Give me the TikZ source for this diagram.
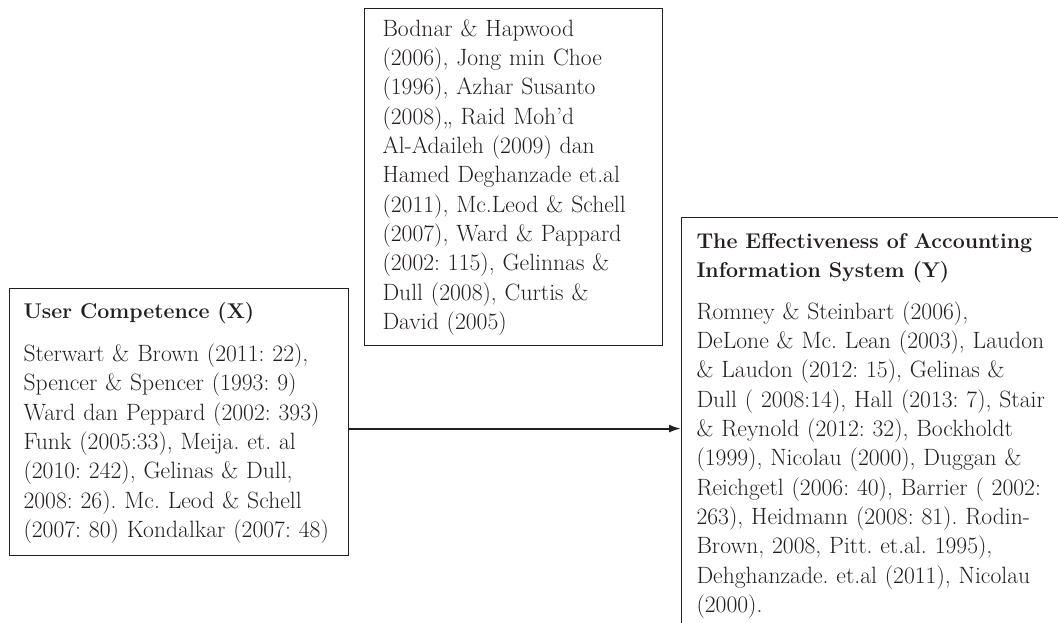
\documentclass[tikz,border=0pt]{standalone}
\usetikzlibrary{arrows.meta, calc}
\definecolor{inkgray}{HTML}{231F20}
\newcommand{\boxhead}[1]{{\fontsize{16}{22}\selectfont\bfseries #1}}

\begin{document}
\begin{tikzpicture}[x=0.75pt, y=-0.75pt,
        refbox/.style={draw=inkgray, line width=0.8pt, anchor=north west, align=left,
            text=inkgray, font=\fontsize{17.7}{22}\selectfont\frenchspacing},
        link/.style={draw=inkgray, line width=1.5pt, -{Latex[length=9pt, width=6pt]}}]
        \useasboundingbox (0,0) rectangle (1058,623);
        \clip (0,0) rectangle (1058,623);

        \node[refbox, inner xsep=10.5pt, text width=233.25pt, minimum height=200.25pt] (user) at (9,288)
            {\begin{tabular}{@{}l@{}}
            \boxhead{User Competence (X)}\\[10.5pt]
            Sterwart \& Brown (2011: 22),\\
            Spencer \& Spencer (1993: 9)\\
            Ward dan Peppard (2002: 393)\\
            Funk (2005:33), Meija. et. al\\
            (2010: 242), Gelinas \& Dull,\\
            2008: 26). Mc. Leod \& Schell\\
            (2007: 80) Kondalkar (2007: 48)
            \end{tabular}};

        \node[refbox, inner xsep=13.5pt, text width=196.5pt, minimum height=252.75pt] (refs) at (364,8)
            {\begin{tabular}{@{}l@{}}
            Bodnar \& Hapwood\\
            (2006), Jong min Choe\\
            (1996), Azhar Susanto\\
            (2008),, Raid Moh'd\\
            Al-Adaileh (2009) dan\\
            Hamed Deghanzade et.al\\
            (2011), Mc.Leod \& Schell\\
            (2007), Ward \& Pappard\\
            (2002: 115), Gelinnas \&\\
            Dull (2008), Curtis \&\\
            David (2005)
            \end{tabular}};

        \node[refbox, inner xsep=11.25pt, text width=285pt, minimum height=310.5pt] (effect) at (681,217)
            {\begin{tabular}{@{}l@{}}
            {\fontsize{16}{22}\selectfont\bfseries\makebox[264pt][s]{The Effectiveness of Accounting}}\\
            \boxhead{Information System (Y)}\\[9pt]
            Romney \& Steinbart (2006),\\
            DeLone \& Mc. Lean (2003), Laudon\\
            \& Laudon (2012: 15), Gelinas \&\\
            Dull ( 2008:14), Hall (2013: 7), Stair\\
            \& Reynold (2012: 32), Bockholdt\\
            (1999), Nicolau (2000), Duggan \&\\
            Reichgetl (2006: 40), Barrier ( 2002:\\
            263), Heidmann (2008: 81). Rodin-\\
            Brown, 2008, Pitt. et.al. 1995),\\
            Dehghanzade. et.al (2011), Nicolau\\
            (2000).
            \end{tabular}};

        \draw[link] ([yshift=-4.9pt]user.east) -- ([yshift=-4.9pt]user.east -| effect.west);
\end{tikzpicture}
\end{document}
